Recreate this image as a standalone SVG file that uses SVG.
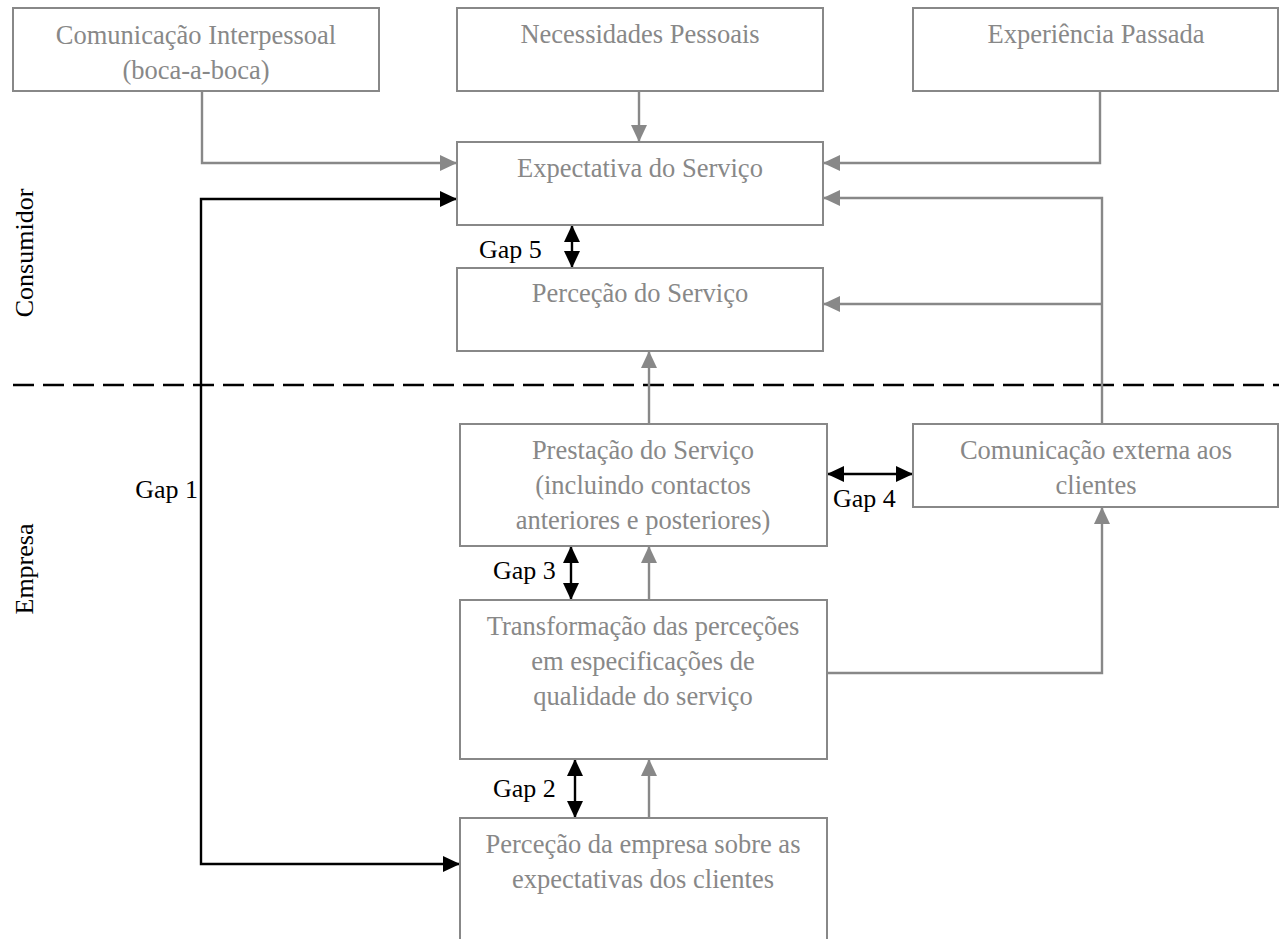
<svg xmlns="http://www.w3.org/2000/svg" width="1279" height="939" viewBox="0 0 1279 939">
  <style>
    .box { fill: #ffffff; stroke: #888888; stroke-width: 2; }
    .txt { font-family: "Liberation Serif", "Times New Roman", serif; font-size: 26.5px; fill: #888888; text-anchor: middle; }
    .lbl { font-family: "Liberation Serif", "Times New Roman", serif; font-size: 26px; fill: #000000; }
    .gray { fill: none; stroke: #888888; stroke-width: 2.4; }
    .black { fill: none; stroke: #000000; stroke-width: 2.4; }
    .divider { stroke: #000000; stroke-width: 2.4; stroke-dasharray: 21 9; }
  </style>
  <defs>
    <marker id="arrGray" markerUnits="userSpaceOnUse" markerWidth="17" markerHeight="16" refX="17" refY="8" orient="auto-start-reverse">
      <path d="M0,0 L17,8 L0,16 z" fill="#888888"/>
    </marker>
    <marker id="arrBlack" markerUnits="userSpaceOnUse" markerWidth="17" markerHeight="16" refX="17" refY="8" orient="auto-start-reverse">
      <path d="M0,0 L17,8 L0,16 z" fill="#000000"/>
    </marker>
  </defs>

  <rect width="1279" height="939" fill="#ffffff"/>

  <!-- side labels -->
  <text class="lbl" transform="translate(33,253) rotate(-90)" text-anchor="middle">Consumidor</text>
  <text class="lbl" transform="translate(33,569) rotate(-90)" text-anchor="middle">Empresa</text>

  <!-- consumer / company divider -->
  <line class="divider" x1="13" y1="385" x2="1279" y2="385"/>

  <!-- connectors -->
  <g id="connectors">
    <path class="gray" d="M202,91 V163 H457" marker-end="url(#arrGray)"/>
    <path class="gray" d="M639,91 V142" marker-end="url(#arrGray)"/>
    <path class="gray" d="M1100,91 V163 H823" marker-end="url(#arrGray)"/>
    <path class="gray" d="M1102,424 V198 H823" marker-end="url(#arrGray)"/>
    <path class="gray" d="M1102,304 H823" marker-end="url(#arrGray)"/>
    <path class="gray" d="M649,424 V351" marker-end="url(#arrGray)"/>
    <path class="gray" d="M649,600 V546" marker-end="url(#arrGray)"/>
    <path class="gray" d="M827,673 H1102 V507" marker-end="url(#arrGray)"/>
    <path class="gray" d="M649,818 V759" marker-end="url(#arrGray)"/>

    <path class="black" d="M457,199 H201 V864 H460" marker-start="url(#arrBlack)" marker-end="url(#arrBlack)"/>
    <path class="black" d="M572,225 V268" marker-start="url(#arrBlack)" marker-end="url(#arrBlack)"/>
    <path class="black" d="M827,474 H913" marker-start="url(#arrBlack)" marker-end="url(#arrBlack)"/>
    <path class="black" d="M571,546 V600" marker-start="url(#arrBlack)" marker-end="url(#arrBlack)"/>
    <path class="black" d="M575,759 V818" marker-start="url(#arrBlack)" marker-end="url(#arrBlack)"/>

    <text class="lbl" x="198" y="498" text-anchor="end">Gap 1</text>
    <text class="lbl" x="493" y="797">Gap 2</text>
    <text class="lbl" x="493" y="579">Gap 3</text>
    <text class="lbl" x="833" y="507">Gap 4</text>
    <text class="lbl" x="479" y="258">Gap 5</text>
  </g>

  <!-- nodes -->
  <g id="comunicacao-interpessoal">
    <rect class="box" x="13" y="8" width="366" height="83"/>
    <text class="txt" x="196" y="44">Comunicação Interpessoal</text>
    <text class="txt" x="196" y="79">(boca-a-boca)</text>
  </g>
  <g id="necessidades-pessoais">
    <rect class="box" x="457" y="8" width="366" height="83"/>
    <text class="txt" x="640" y="43">Necessidades Pessoais</text>
  </g>
  <g id="experiencia-passada">
    <rect class="box" x="913" y="8" width="365" height="83"/>
    <text class="txt" x="1096" y="43">Experiência Passada</text>
  </g>
  <g id="expectativa-servico">
    <rect class="box" x="457" y="142" width="366" height="83"/>
    <text class="txt" x="640" y="177">Expectativa do Serviço</text>
  </g>
  <g id="percecao-servico">
    <rect class="box" x="457" y="268" width="366" height="83"/>
    <text class="txt" x="640" y="302">Perceção do Serviço</text>
  </g>
  <g id="prestacao-servico">
    <rect class="box" x="460" y="424" width="367" height="122"/>
    <text class="txt" x="643" y="459">Prestação do Serviço</text>
    <text class="txt" x="643" y="494">(incluindo contactos</text>
    <text class="txt" x="643" y="529">anteriores e posteriores)</text>
  </g>
  <g id="comunicacao-externa">
    <rect class="box" x="913" y="424" width="365" height="83"/>
    <text class="txt" x="1096" y="459">Comunicação externa aos</text>
    <text class="txt" x="1096" y="494">clientes</text>
  </g>
  <g id="transformacao-percecoes">
    <rect class="box" x="460" y="600" width="367" height="159"/>
    <text class="txt" x="643" y="635">Transformação das perceções</text>
    <text class="txt" x="643" y="670">em especificações de</text>
    <text class="txt" x="643" y="705">qualidade do serviço</text>
  </g>
  <g id="percecao-empresa">
    <rect class="box" x="460" y="818" width="367" height="140"/>
    <text class="txt" x="643" y="853">Perceção da empresa sobre as</text>
    <text class="txt" x="643" y="888">expectativas dos clientes</text>
  </g>
</svg>
